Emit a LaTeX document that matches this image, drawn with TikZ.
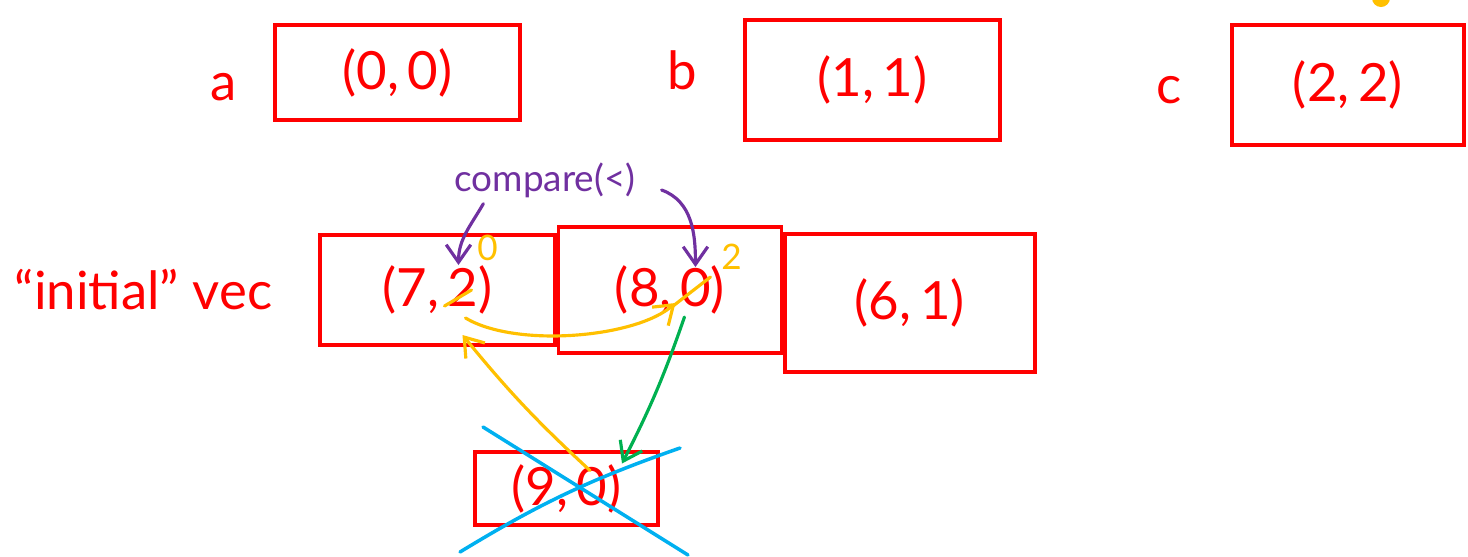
\documentclass[tikz,border=0pt]{standalone}
\usepackage{fontspec}
\setmainfont{Lato}
\usetikzlibrary{arrows.meta,positioning}
\definecolor{penred}{RGB}{255,0,0}
\definecolor{penpurple}{RGB}{112,48,160}
\definecolor{penyellow}{RGB}{255,192,0}
\definecolor{pengreen}{RGB}{0,176,80}
\definecolor{penblue}{RGB}{0,176,240}

\begin{document}
\begin{tikzpicture}[
    x=0.02cm, y=-0.02cm,
    ink/.style={text=penred, font=\fontsize{30}{34}\selectfont},
    cell/.style={draw=penred, line width=2pt, ink, inner sep=0pt},
    note/.style={text=penyellow, font=\fontsize{20}{22}\selectfont},
    pen/.style={line width=1.8pt, line cap=round, -{Straight Barb[length=10pt,width=14pt]}},
    strike/.style={penyellow, line width=1.8pt, line cap=round},
    cross/.style={penblue, line width=2pt, line cap=round}
  ]
  \useasboundingbox (0,0) rectangle (1468,556);

  % named tuples
  \node[cell, minimum width=4.9cm, minimum height=1.9cm] (tupA) at (397.5,72.5) {(0,\,0)};
  \node[cell, minimum width=5.1cm, minimum height=2.4cm] (tupB) at (872.5,80) {(1,\,1)};
  \node[cell, minimum width=4.64cm, minimum height=2.4cm] (tupC) at (1348,85) {(2,\,2)};
  \node[ink, left=0.6cm of tupA, yshift=-0.3cm] (labA) {a};
  \node[ink, left=0.8cm of tupB, yshift=0.2cm] (labB) {b};
  \node[ink, left=0.85cm of tupC, yshift=-0.1cm] (labC) {c};

  % the vec
  \node[cell, minimum width=4.7cm, minimum height=2.2cm] (v1) at (437.5,290) {(7,\,2)};
  \node[cell, minimum width=4.46cm, minimum height=2.52cm, right=0pt of v1] (v2) {(8,\,0)};
  \node[cell, minimum width=5cm, minimum height=2.76cm, right=0pt of v2, yshift=-0.26cm] (v3) {(6,\,1)};
  \node[ink, left=0.8cm of v1] (labVec) {“initial” vec};
  \node[cell, minimum width=3.66cm, minimum height=1.46cm] (tmp) at (566.5,488.5) {(9,\,0)};

  \node[text=penpurple, font=\fontsize{21}{24}\selectfont] (cmp) at (545,180) {compare(<)};

  \coordinate (d2) at ([xshift=0.5cm,yshift=-0.1cm]v1.center);
  \coordinate (d0) at ([xshift=0.43cm]v2.center);
  \coordinate (d9) at ([xshift=0.67cm]tmp.center);

  % swapped values
  \draw[strike] ([shift={(-18,11)}]d2) -- ([shift={(9,-5)}]d2);
  \draw[strike] ([shift={(-21,18)}]d0) -- ([shift={(19,-13)}]d0);
  \node[note] (new2) at ([shift={(25,-47)}]d2) {0};
  \node[note] (new0) at ([shift={(40,-33)}]d0) {2};

  \draw[pen, penpurple] ([xshift=0.7cm]cmp.south west) to[out=240, in=90] ([shift={(-4,-30)}]d2);
  \draw[pen, penpurple] ([shift={(20,10)}]cmp.east) to[out=-20, in=90] ([shift={(4,-23)}]d0);
  \draw[pen, penyellow] ([shift={(3,23)}]d2) .. controls +(50,30) and +(-40,35) .. ([shift={(-16,13)}]d0);
  \draw[pen, penyellow] ([shift={(-10,-18)}]d9) to[bend left=4] ([shift={(0,40)}]d2);
  \draw[pen, pengreen] ([shift={(-7,27)}]d0) to[bend left=4] ([shift={(22,-25)}]d9);

  % crossed out
  \draw[cross] ([shift={(-83.5,-61.5)}]tmp.center) -- ([shift={(121.5,66.5)}]tmp.center);
  \draw[cross] ([shift={(-106.5,63.5)}]tmp.center) to[bend left=6] ([shift={(113.5,-40.5)}]tmp.center);

  \fill[penyellow] (1381,-2) circle (0.18cm);
\end{tikzpicture}
\end{document}
